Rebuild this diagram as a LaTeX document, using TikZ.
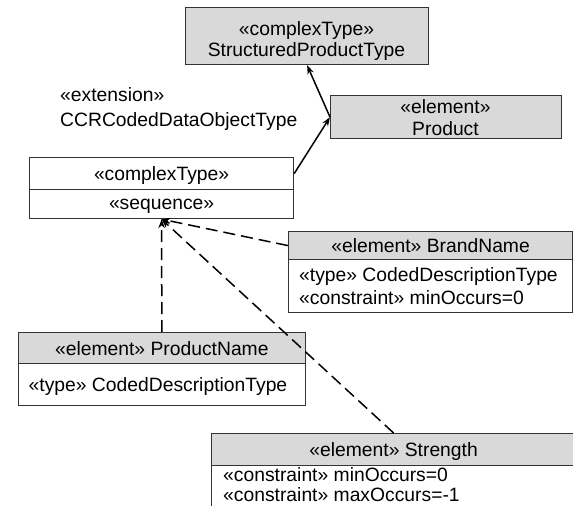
\documentclass[tikz,border=0pt]{standalone}
\usepackage{fontspec}
\setmainfont{Liberation Sans}
\usetikzlibrary{arrows.meta}
\definecolor{boxgray}{HTML}{D9D9D9}
\definecolor{edge}{HTML}{333333}
\begin{document}
\begin{tikzpicture}[x=1pt,y=-1pt,
  every node/.style={font=\fontsize{19.3}{22}\selectfont, inner sep=0pt},
  umlbox/.style={draw=edge, line width=1.2pt, rectangle, anchor=north west},
  headbox/.style={umlbox, fill=boxgray, text depth=0pt},
  graybox/.style={umlbox, fill=boxgray},
  plainbox/.style={umlbox, fill=white, text depth=0pt},
  bodybox/.style={umlbox, fill=white},
  bodytext/.style={anchor=base west},
  boxtitle/.style={anchor=base, align=center},
  assoc/.style={line width=1.5pt, draw=black, -{Stealth[length=9pt,width=6.5pt]}},
  member/.style={assoc, dash pattern=on 12pt off 6pt}]
\clip (0,0) rectangle (573,506);
\fill[white] (0,0) rectangle (573,506);

% base type and referenced element
\node[graybox, minimum width=243pt, minimum height=57pt] (spt) at (185,7) {};
\node[boxtitle, font=\fontsize{19.3}{21.5}\selectfont] (sptt) at (306.5,56.5)
  {«complexType»\\StructuredProductType};
\node[graybox, minimum width=231pt, minimum height=43pt] (prod) at (330,95) {};
\node[boxtitle, font=\fontsize{19.3}{22.5}\selectfont] (prodt) at (445.5,135.5)
  {«element»\\Product};

% extension label
\node[anchor=base west, align=left, font=\fontsize{19.3}{24.3}\selectfont] (ext) at (60,126)
  {«extension»\\CCRCodedDataObjectType};

% anonymous complex type with its sequence
\node[plainbox, minimum width=264pt, minimum height=32pt] (ct) at (29,157) {«complexType»};
\node[plainbox, minimum width=264pt, minimum height=29pt] (seq) at (29,189) {«sequence»};

% BrandName
\node[headbox, minimum width=284pt, minimum height=28pt] (bn) at (288,231) {«element» BrandName};
\node[bodybox, minimum width=284pt, minimum height=53pt] (bnb) at (288,259) {};
\node[bodytext] (bnt1) at (299,281.7) {«type» CodedDescriptionType};
\node[bodytext] (bnt2) at (299,304) {«constraint» minOccurs=0};

% ProductName
\node[headbox, minimum width=287.5pt, minimum height=31pt] (pn) at (17.5,332) {«element» ProductName};
\node[bodybox, minimum width=287.5pt, minimum height=42pt] (pnb) at (17.5,363) {};
\node[bodytext] (pnt1) at (28.5,391.7) {«type» CodedDescriptionType};

% Strength
\node[headbox, minimum width=364pt, minimum height=32pt] (st) at (211,433) {«element» Strength};
\node[bodybox, minimum width=364pt, minimum height=46pt] (stb) at (211,465) {};
\node[bodytext] (stt1) at (223,481.7) {«constraint» minOccurs=0};
\node[bodytext] (stt2) at (223,501.7) {«constraint» maxOccurs=-1};

% connectors
\draw[assoc] (ct.east) -- (prod.west);
\draw[assoc] (prod.west) -- (spt.south);
\draw[member] (pn.north) -- (seq.south);
\draw[member] (bn.west) -- (seq.south);
\draw[member] (st.north) -- (seq.south);
\end{tikzpicture}
\end{document}
